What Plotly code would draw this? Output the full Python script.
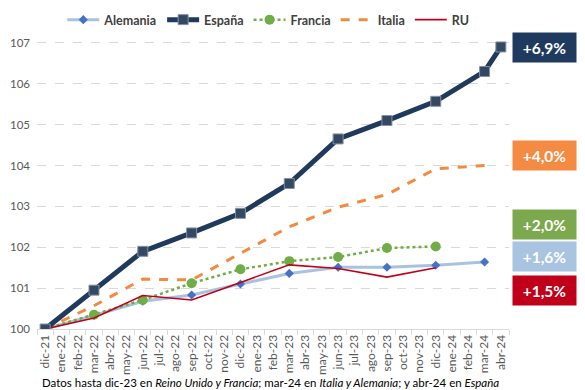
import plotly.graph_objects as go

months = ["dic-21", "ene-22", "feb-22", "mar-22", "abr-22", "may-22", "jun-22", "jul-22",
          "ago-22", "sep-22", "oct-22", "nov-22", "dic-22", "ene-23", "feb-23", "mar-23",
          "abr-23", "may-23", "jun-23", "jul-23", "ago-23", "sep-23", "oct-23", "nov-23",
          "dic-23", "ene-24", "feb-24", "mar-24", "abr-24"]

q_to_mar24 = ["dic-21", "mar-22", "jun-22", "sep-22", "dic-22", "mar-23", "jun-23",
              "sep-23", "dic-23", "mar-24"]
q_to_dic23 = q_to_mar24[:-1]
q_to_abr24 = q_to_mar24 + ["abr-24"]

alemania = [100, 100.33, 100.68, 100.83, 101.1, 101.36, 101.51, 101.51, 101.56, 101.64]
espana = [100, 100.95, 101.9, 102.35, 102.83, 103.56, 104.65, 105.1, 105.57, 106.3, 106.9]
francia = [100, 100.35, 100.71, 101.12, 101.46, 101.66, 101.76, 101.98, 102.02]
italia = [100, 100.57, 101.22, 101.2, 101.85, 102.5, 102.98, 103.29, 103.92, 104.0]
ru = [100, 100.27, 100.82, 100.71, 101.14, 101.57, 101.48, 101.27, 101.5]

labels = ["+6,9%", "+4,0%", "+2,0%", "+1,6%", "+1,5%"]
label_colors = ["#1F3A5F", "#F58A42", "#7CA84E", "#A8C4E0", "#C00018"]
label_ypix = [48, 155, 225, 256, 290]


def full(xs, ys):
    d = dict(zip(xs, ys))
    return [d.get(m) for m in months]


fig = go.Figure()

fig.add_trace(go.Scatter(
    x=months, y=full(q_to_mar24, alemania), name="Alemania", mode="lines+markers",
    connectgaps=True, legendrank=1,
    line=dict(color="#A9C2E0", width=3),
    marker=dict(symbol="diamond", size=7, color="#4472C4")))
fig.add_trace(go.Scatter(
    x=months, y=full(q_to_mar24, italia), name="Italia", mode="lines",
    connectgaps=True, legendrank=4,
    line=dict(color="#F28B41", width=3, dash="dash")))
fig.add_trace(go.Scatter(
    x=months, y=full(q_to_dic23, francia), name="Francia", mode="lines+markers",
    connectgaps=True, legendrank=3,
    line=dict(color="#70AD47", width=2.5, dash="dot"),
    marker=dict(symbol="circle", size=10, color="#70AD47")))
fig.add_trace(go.Scatter(
    x=months, y=full(q_to_dic23, ru), name="RU", mode="lines",
    connectgaps=True, legendrank=5,
    line=dict(color="#C0001A", width=1.6)))
fig.add_trace(go.Scatter(
    x=months, y=full(q_to_abr24, espana), name="España", mode="lines+markers",
    connectgaps=True, legendrank=2,
    line=dict(color="#203A5C", width=5),
    marker=dict(symbol="square", size=10, color="#344862",
                line=dict(color="#8392A6", width=1))))

W, H = 585, 390
L, R, T, B = 37, 76, 2, 61
ph = H - T - B

for txt, col, yp in zip(labels, label_colors, label_ypix):
    fig.add_annotation(
        xref="paper", yref="paper", x=1 + (544.5 - (W - R)) / (W - L - R),
        y=1 - (yp - T) / ph, text="<b>" + txt + "</b>", showarrow=False,
        font=dict(family="Lato", size=15.5, color="white"),
        bgcolor=col, width=61, height=27, align="center",
        xanchor="center", yanchor="middle")

fig.add_annotation(
    xref="paper", yref="paper", x=(40 - L) / (W - L - R), y=-(374 - (H - B)) / ph,
    xanchor="left", yanchor="top", showarrow=False,
    text="Datos hasta dic-23 en <i>Reino Unido y Francia</i>; mar-24 en <i>Italia y Alemania</i>; y abr-24 en <i>España</i>",
    font=dict(family="Lato", size=11.5, color="#000000"))

fig.update_layout(
    width=W, height=H, margin=dict(l=L, r=R, t=T, b=B),
    plot_bgcolor="white", paper_bgcolor="white",
    font=dict(family="Lato", color="#595959"),
    showlegend=True,
    legend=dict(orientation="h", x=0.49, y=1 - (20 - T) / ph, xanchor="center",
                yanchor="middle", bgcolor="rgba(0,0,0,0)",
                font=dict(family="Lato", size=12.5, color="#404040", weight="bold"),
                itemwidth=32, tracegroupgap=0),
    xaxis=dict(type="category", categoryorder="array", categoryarray=months,
               range=[-0.5, len(months) - 0.5], tickangle=-90,
               tickfont=dict(size=12, color="#595959"),
               showgrid=False, showline=True, linecolor="#D9D9D9", linewidth=1,
               ticks="outside", tickson="boundaries", ticklen=5, tickcolor="#D9D9D9"),
    yaxis=dict(range=[100, 108], dtick=1, showgrid=True, gridcolor="#D9D9D9",
               griddash="dash", gridwidth=1, zeroline=False,
               tickfont=dict(size=11.5, color="#595959"), ticks="", ticklabelstandoff=6),
)

fig.write_html("out.html", config={"displayModeBar": False},
               post_script="document.body.style.margin='0px';")
